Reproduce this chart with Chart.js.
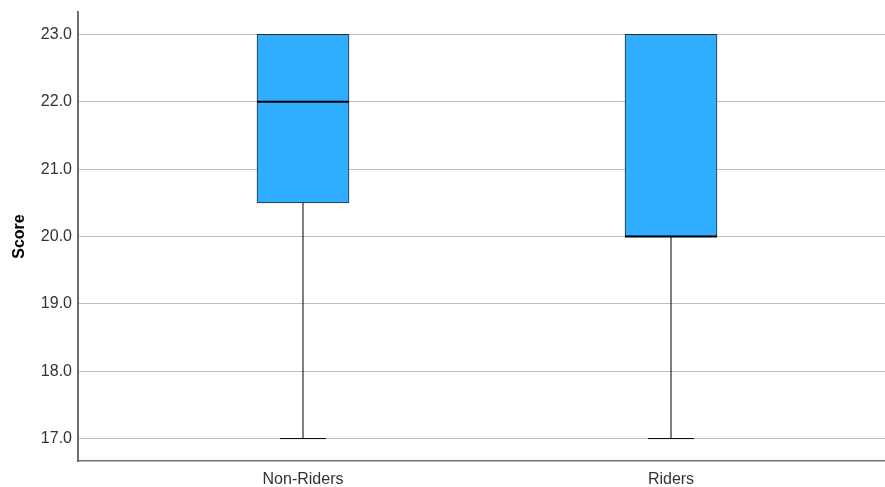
<!DOCTYPE html>
<html>
<head>
<meta charset="utf-8">
<script src="https://cdn.jsdelivr.net/npm/chart.js@4"></script>
<style>
    html, body { margin: 0; padding: 0; background: #fff; }
    #wrap { width: 885px; height: 487px; }
</style>
</head>
<body>
<div id="wrap"><canvas id="boxChart" width="885" height="487"></canvas></div>
<script>
const groups = ['Non-Riders', 'Riders'];
const minima = [17, 17];
const q1s = [20.5, 20];
const medians = [22, 20];
const q3s = [23, 23];
const maxima = [23, 23];
const yTicks = [17, 18, 19, 20, 21, 22, 23];

const font = '"Liberation Sans", Arial, sans-serif';

// whiskers and median lines, placed through the chart scales
const boxExtras = {
    id: 'boxExtras',
    afterDatasetsDraw(chart) {
        const { ctx, scales: { x, y } } = chart;
        const meta = chart.getDatasetMeta(0);
        ctx.save();
        groups.forEach((_, i) => {
            const bar = meta.data[i];
            if (!bar) return;
            const cx = x.getPixelForValue(i + 1);
            const half = bar.width / 2;
            const capHalf = half / 2;

            ctx.strokeStyle = '#000';
            ctx.lineWidth = 1;
            ctx.beginPath();
            ctx.moveTo(cx, y.getPixelForValue(q1s[i]));
            ctx.lineTo(cx, y.getPixelForValue(minima[i]));
            ctx.moveTo(cx - capHalf, y.getPixelForValue(minima[i]));
            ctx.lineTo(cx + capHalf, y.getPixelForValue(minima[i]));
            if (maxima[i] > q3s[i]) {
                ctx.moveTo(cx, y.getPixelForValue(q3s[i]));
                ctx.lineTo(cx, y.getPixelForValue(maxima[i]));
                ctx.moveTo(cx - capHalf, y.getPixelForValue(maxima[i]));
                ctx.lineTo(cx + capHalf, y.getPixelForValue(maxima[i]));
            }
            ctx.stroke();

            ctx.lineWidth = 2;
            ctx.beginPath();
            ctx.moveTo(cx - half, y.getPixelForValue(medians[i]));
            ctx.lineTo(cx + half, y.getPixelForValue(medians[i]));
            ctx.stroke();
        });
        ctx.restore();
    },
};

new Chart(document.getElementById('boxChart'), {
    type: 'bar',
    data: {
        datasets: [{
            data: groups.map((_, i) => ({ x: i + 1, y: [q1s[i], q3s[i]] })),
            backgroundColor: '#31adff',
            borderColor: '#2a2a2a',
            borderWidth: 1,
            borderSkipped: false,
            barThickness: 92,
        }],
    },
    plugins: [boxExtras],
    options: {
        responsive: false,
        animation: false,
        layout: { padding: { top: 12, right: 0, left: 0, bottom: 0 } },
        plugins: { legend: { display: false }, tooltip: { enabled: false } },
        scales: {
            x: {
                type: 'linear',
                offset: false,
                min: 0.3886,
                max: 2.5815,
                afterBuildTicks: (axis) => { axis.ticks = groups.map((_, i) => ({ value: i + 1 })); },
                afterFit: (axis) => { axis.height = 26; },
                ticks: {
                    callback: (value) => groups[value - 1] || '',
                    color: '#333',
                    font: { family: font, size: 16 },
                    padding: 9,
                    maxRotation: 0,
                },
                grid: { display: false, drawTicks: false },
                border: { color: '#6e6e6e', width: 1.5 },
            },
            y: {
                min: 16.667,
                max: 23.333,
                afterBuildTicks: (axis) => { axis.ticks = yTicks.map((v) => ({ value: v })); },
                afterFit: (axis) => {
                    axis.width = 78;
                    axis.paddingTop = 0;
                    axis.paddingBottom = 0;
                },
                ticks: {
                    callback: (value) => value.toFixed(1),
                    color: '#333',
                    font: { family: font, size: 16 },
                    padding: 6,
                },
                title: {
                    display: true,
                    text: 'Score',
                    color: '#000',
                    font: { family: font, size: 16, weight: 'bold' },
                    padding: { top: 10, bottom: 0 },
                },
                grid: { color: '#bfbfbf', lineWidth: 1, drawTicks: false },
                border: { color: '#6e6e6e', width: 2 },
            },
        },
    },
});
</script>
</body>
</html>
